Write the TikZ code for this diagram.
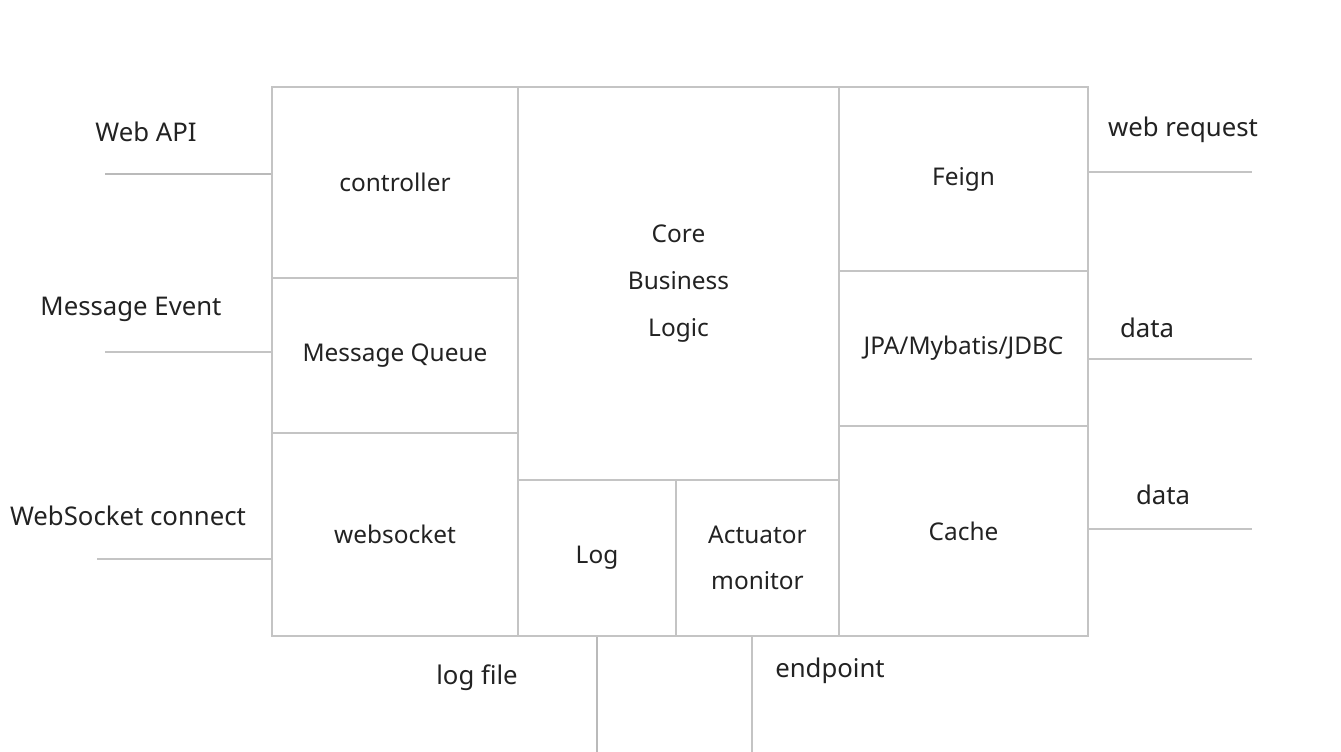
\documentclass[tikz,border=0pt]{standalone}
\usepackage{fontspec}
\setmainfont{Noto Sans}
\definecolor{edge}{HTML}{C4C4C4}
\definecolor{ink}{HTML}{222222}
\tikzset{
    blk/.style 2 args={draw=edge, line width=1.5pt, anchor=north west, inner sep=0pt,
        minimum width=#1*0.75pt, minimum height=#2*0.75pt, align=center,
        font=\fontsize{18.3}{35}\selectfont, text=ink},
    wire/.style={draw=edge, line width=1.5pt},
    fat/.style={line width=2.1pt, draw=edge!95!black},
    lbl/.style={font=\fontsize{19.3}{23}\selectfont, text=ink}
}
\begin{document}
\begin{tikzpicture}[x=0.75pt, y=-0.75pt]
    \useasboundingbox (0,0) rectangle (1341,752);
    % left column
    \node[blk={246}{191}] (ctrl) at (271,86) {controller};
    \node[blk={246}{155}] (mq) at (271,277) {Message Queue};
    \node[blk={246}{203}] (ws) at (271,432) {websocket};
    % middle
    \node[blk={321}{393}] (core) at (517,86) {Core\\Business\\Logic};
    \node[blk={158}{156}] (log) at (517,479) {Log};
    \node[blk={163}{156}] (act) at (675,479) {Actuator\\monitor};
    % right column
    \node[blk={249}{184}] (feign) at (838,86) {Feign};
    \node[blk={249}{155}] (jpa) at (838,270) {JPA/Mybatis/JDBC};
    \node[blk={249}{210}] (cache) at (838,425) {Cache};
    % outside
    \coordinate (api) at (105,174);
    \coordinate (evt) at (105,352);
    \coordinate (sock) at (97,559);
    \coordinate (req) at (1252,172);
    \coordinate (db) at (1252,359);
    \coordinate (kv) at (1252,529);
    \coordinate (logfile) at (597,752);
    \coordinate (ep) at (752,752);
    \draw[wire, fat] (api) -- (api -| ctrl.west);
    \draw[wire] (evt) -- (evt -| mq.west);
    \draw[wire] (sock) -- (sock -| ws.west);
    \draw[wire] (req -| feign.east) -- (req);
    \draw[wire] (db -| jpa.east) -- (db);
    \draw[wire] (kv -| cache.east) -- (kv);
    \draw[wire, fat] (logfile |- log.south) -- (logfile);
    \draw[wire] (ep |- act.south) -- (ep);
    \node[lbl] (apilbl) at (146,132) {Web API};
    \node[lbl] (evtlbl) at (131,309) {Message Event};
    \node[lbl] (socklbl) at (128,516) {WebSocket connect};
    \node[lbl] (reqlbl) at (1183,130) {web request};
    \node[lbl] (dblbl) at (1147,328) {data};
    \node[lbl] (kvlbl) at (1163,495) {data};
    \node[lbl] (loglbl) at (477,678) {log file};
    \node[lbl] (eplbl) at (830,671) {endpoint};
\end{tikzpicture}
\end{document}
